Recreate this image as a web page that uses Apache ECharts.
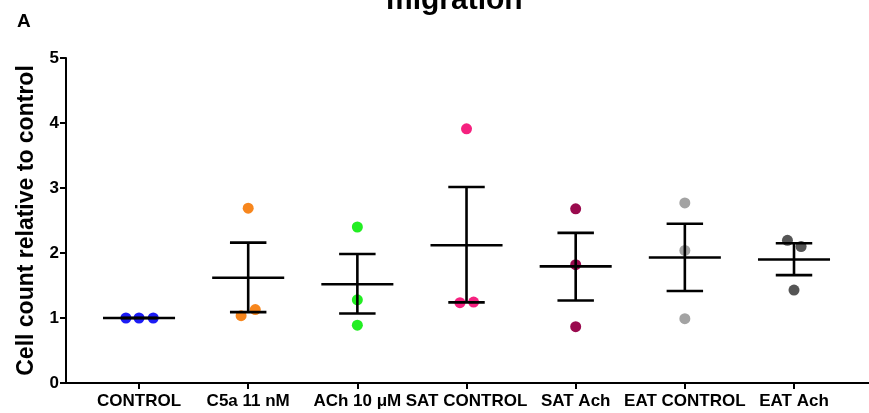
<!DOCTYPE html>
<html>
<head>
<meta charset="utf-8">
<script src="https://cdn.jsdelivr.net/npm/echarts@6/dist/echarts.min.js"></script>
<style>html,body{margin:0;padding:0;background:#fff}#c{width:869px;height:413px}</style>
</head>
<body>
<div id="c"></div>
<script>
// ---- data ----
const categories = ['CONTROL', 'C5a 11 nM', 'ACh 10 \u03bcM', 'SAT CONTROL', 'SAT Ach', 'EAT CONTROL', 'EAT Ach'];
const colors = ['#1c1cf5', '#f7861d', '#22ee22', '#f5217f', '#9a0a4e', '#a3a3a3', '#555555'];
// individual points per group: [jitter offset (category units), value]
const points = [
  [[-0.12, 1.00], [0, 1.00], [0.13, 1.00]],
  [[0, 2.69], [-0.065, 1.035], [0.065, 1.13]],
  [[0, 2.40], [0, 1.28], [0, 0.89]],
  [[0, 3.91], [-0.06, 1.235], [0.065, 1.245]],
  [[0, 2.68], [0, 1.82], [0, 0.866]],
  [[0, 2.77], [0, 2.04], [0, 0.99]],
  [[-0.06, 2.195], [0.065, 2.10], [0, 1.43]]
];
const means = [1.00, 1.62, 1.52, 2.12, 1.795, 1.93, 1.90];
const upper = [1.00, 2.16, 1.985, 3.015, 2.31, 2.45, 2.15];
const lower = [1.00, 1.09, 1.07, 1.24, 1.27, 1.415, 1.66];
const yTicks = [0, 1, 2, 3, 4, 5];

const font = '"Liberation Sans", Arial, sans-serif';
const chart = echarts.init(document.getElementById('c'));

const scatterSeries = points.map((grp, i) => ({
  type: 'scatter',
  data: grp.map(p => [i + p[0], p[1]]),
  symbol: 'circle',
  symbolSize: 11,
  itemStyle: { color: colors[i], opacity: 1 },
  z: 2,
  silent: true
}));

const errData = categories.map((c, i) => [i, means[i], lower[i], upper[i]]);

const errSeries = {
  type: 'custom',
  z: 5,
  silent: true,
  data: errData,
  encode: { x: 0, y: [1, 2, 3] },
  renderItem: function (params, api) {
    const x = api.value(0);
    const m = api.coord([x, api.value(1)]);
    const lo = api.coord([x, api.value(2)]);
    const hi = api.coord([x, api.value(3)]);
    const meanHalf = api.size([0.33, 0])[0];
    const capHalf = api.size([0.167, 0])[0];
    const st = { stroke: '#000', lineWidth: 2.6, fill: 'none' };
    return {
      type: 'group',
      children: [
        { type: 'line', shape: { x1: m[0] - meanHalf, y1: m[1], x2: m[0] + meanHalf, y2: m[1] }, style: st },
        { type: 'line', shape: { x1: lo[0], y1: lo[1], x2: hi[0], y2: hi[1] }, style: st },
        { type: 'line', shape: { x1: hi[0] - capHalf, y1: hi[1], x2: hi[0] + capHalf, y2: hi[1] }, style: st },
        { type: 'line', shape: { x1: lo[0] - capHalf, y1: lo[1], x2: lo[0] + capHalf, y2: lo[1] }, style: st }
      ]
    };
  }
};

chart.setOption({
  animation: false,
  backgroundColor: '#fff',
  title: [
    { text: 'migration', left: 381, top: -19,
      textStyle: { fontFamily: font, fontWeight: 'bold', fontSize: 30, color: '#000' } },
    { text: 'A', left: 12, top: 7,
      textStyle: { fontFamily: font, fontWeight: 'bold', fontSize: 19, color: '#000' } }
  ],
  grid: { left: 66, right: 0, top: 58, bottom: 30, containLabel: false },
  xAxis: {
    type: 'value',
    min: -0.669,
    max: 6.687,
    splitLine: { show: false },
    axisLine: { show: true, onZero: false, lineStyle: { color: '#000', width: 2 } },
    axisTick: { show: true, length: 6, customValues: categories.map((c, i) => i), lineStyle: { color: '#000', width: 2 } },
    axisLabel: {
      customValues: categories.map((c, i) => i),
      formatter: v => categories[Math.round(v)] || '',
      fontFamily: font, fontWeight: 'bold', fontSize: 17, color: '#000', margin: 10
    }
  },
  yAxis: {
    type: 'value',
    min: 0,
    max: 5,
    interval: 1,
    name: 'Cell count relative to control',
    nameLocation: 'middle',
    nameGap: 24,
    nameRotate: 90,
    nameTextStyle: { fontFamily: font, fontWeight: 'bold', fontSize: 23, color: '#000' },
    splitLine: { show: false },
    axisLine: { show: true, onZero: false, lineStyle: { color: '#000', width: 2 } },
    axisTick: { show: true, length: 6, lineStyle: { color: '#000', width: 2 } },
    axisLabel: {
      fontFamily: font, fontWeight: 'bold', fontSize: 17, color: '#000', margin: 7,
      formatter: v => (yTicks.indexOf(v) >= 0 ? String(v) : '')
    }
  },
  series: scatterSeries.concat([errSeries])
});
</script>
</body>
</html>
